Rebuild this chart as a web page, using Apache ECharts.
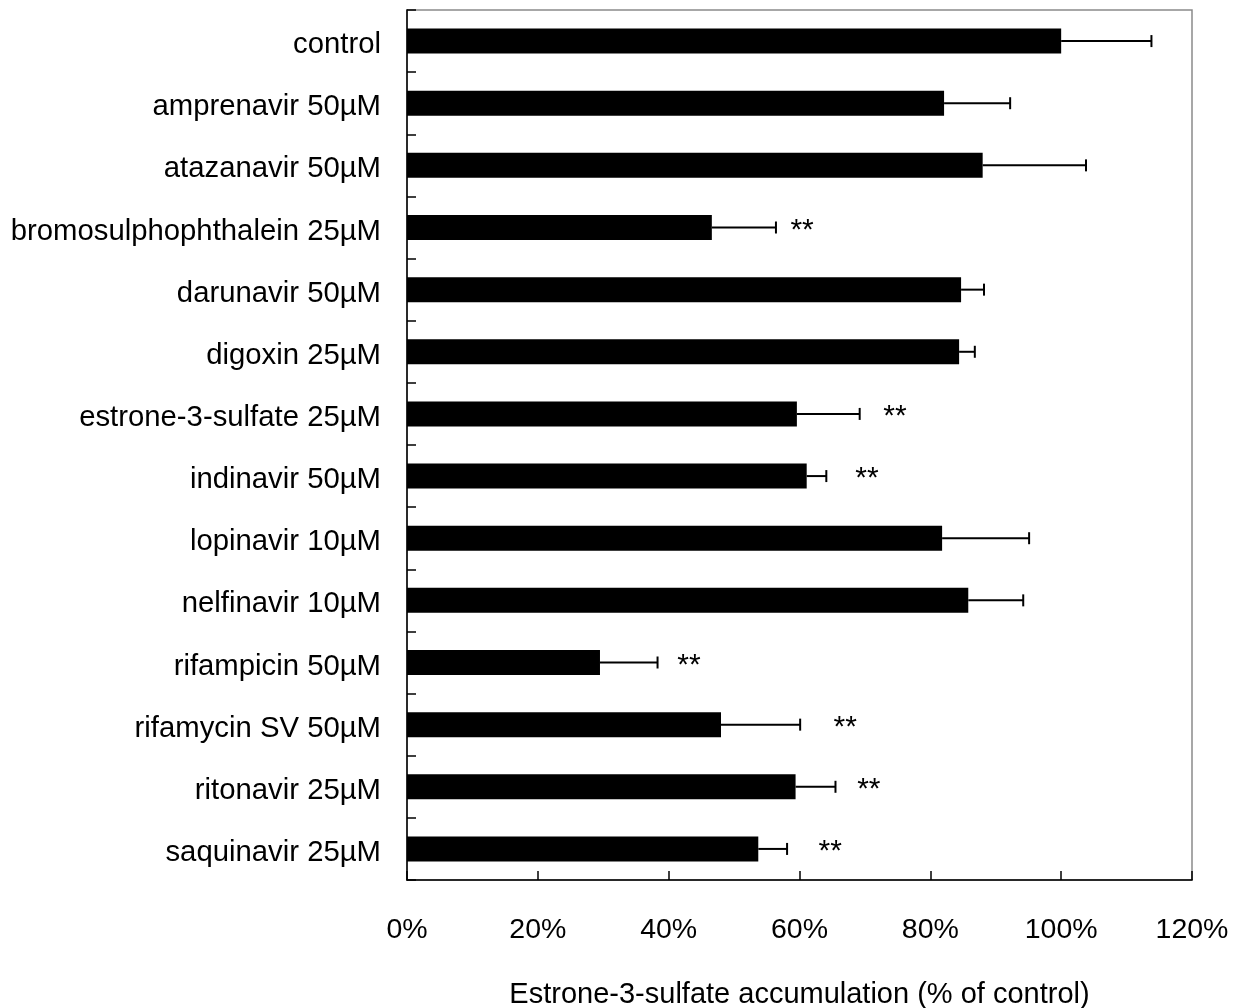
<!DOCTYPE html>
<html>
<head>
<meta charset="utf-8">
<script src="https://cdn.jsdelivr.net/npm/echarts@6/dist/echarts.min.js"></script>
<style>
  html, body { margin: 0; padding: 0; background: #fff; }
  #chart { width: 1244px; height: 1008px; }
</style>
</head>
<body>
<div id="chart"></div>
<script>
// Treatments tested on estrone-3-sulfate uptake
const categories = [
  'control',
  'amprenavir 50\u00b5M',
  'atazanavir 50\u00b5M',
  'bromosulphophthalein 25\u00b5M',
  'darunavir 50\u00b5M',
  'digoxin 25\u00b5M',
  'estrone-3-sulfate 25\u00b5M',
  'indinavir 50\u00b5M',
  'lopinavir 10\u00b5M',
  'nelfinavir 10\u00b5M',
  'rifampicin 50\u00b5M',
  'rifamycin SV 50\u00b5M',
  'ritonavir 25\u00b5M',
  'saquinavir 25\u00b5M'
];

// Accumulation, % of control (mean)
const meanValues = [100, 82.1, 88.0, 46.6, 84.7, 84.4, 59.6, 61.1, 81.8, 85.8, 29.5, 48.0, 59.4, 53.7];

// Upper end of the error bar, % of control
const errorUpper = [113.8, 92.2, 103.8, 56.4, 88.2, 86.8, 69.2, 64.1, 95.1, 94.2, 38.3, 60.1, 65.5, 58.1];

// Significance markers: [category index, x position in % units]
const sigMarks = [
  [3, 60.4],
  [6, 74.6],
  [7, 70.3],
  [10, 43.1],
  [11, 67.0],
  [12, 70.6],
  [13, 64.7]
];

// Percent axis ticks
const xTicks = [0, 20, 40, 60, 80, 100, 120];

const FONT = '"Liberation Sans", Arial, sans-serif';

const chart = echarts.init(document.getElementById('chart'), null, { renderer: 'canvas' });

const errorData = meanValues.map((v, i) => [v, errorUpper[i], i]);

chart.setOption({
  animation: false,
  backgroundColor: '#ffffff',
  grid: {
    left: 407,
    right: 52,
    top: 10,
    bottom: 128,
    outerBoundsMode: 'none',
    containLabel: false,
    show: true,
    borderColor: '#8a8a8a',
    borderWidth: 1.5,
    backgroundColor: 'transparent'
  },
  xAxis: {
    type: 'value',
    min: xTicks[0],
    max: xTicks[xTicks.length - 1],
    interval: 20,
    splitLine: { show: false },
    axisLine: { show: true, lineStyle: { color: '#000', width: 1.5 } },
    axisTick: { show: true, inside: true, length: 9, lineStyle: { color: '#000', width: 1.5 } },
    axisLabel: {
      margin: 36,
      fontFamily: FONT,
      fontSize: 28.5,
      color: '#000',
      formatter: v => v + '%'
    },
    name: 'Estrone-3-sulfate accumulation (% of control)',
    nameLocation: 'middle',
    nameGap: 100,
    nameTextStyle: { fontFamily: FONT, fontSize: 29, color: '#000' }
  },
  yAxis: {
    type: 'category',
    data: categories,
    inverse: true,
    axisLine: { show: true, lineStyle: { color: '#000', width: 1.5 } },
    axisTick: { show: true, inside: true, length: 9, alignWithLabel: false, lineStyle: { color: '#000', width: 1.5 } },
    axisLabel: {
      margin: 26,
      fontFamily: FONT,
      fontSize: 29.3,
      color: '#000',
      verticalAlign: 'top',
      lineHeight: 8
    },
    splitLine: { show: false }
  },
  series: [
    {
      type: 'bar',
      data: meanValues,
      barWidth: 25,
      itemStyle: { color: '#000' },
      z: 2
    },
    {
      type: 'custom',
      data: errorData,
      z: 3,
      renderItem: function (params, api) {
        const start = api.coord([api.value(0), api.value(2)]);
        const end = api.coord([api.value(1), api.value(2)]);
        const cap = 6;
        const style = { stroke: '#000', lineWidth: 2 };
        return {
          type: 'group',
          children: [
            { type: 'line', shape: { x1: start[0], y1: start[1], x2: end[0], y2: end[1] }, style: style },
            { type: 'line', shape: { x1: end[0], y1: end[1] - cap, x2: end[0], y2: end[1] + cap }, style: style }
          ]
        };
      }
    },
    {
      type: 'custom',
      data: sigMarks.map(m => [m[1], m[0]]),
      z: 4,
      renderItem: function (params, api) {
        const p = api.coord([api.value(0), api.value(1)]);
        return {
          type: 'text',
          style: {
            x: p[0],
            y: p[1] + 3,
            text: '**',
            fill: '#000',
            font: '30px ' + FONT,
            textAlign: 'center',
            textVerticalAlign: 'middle'
          }
        };
      }
    }
  ]
});
</script>
</body>
</html>
